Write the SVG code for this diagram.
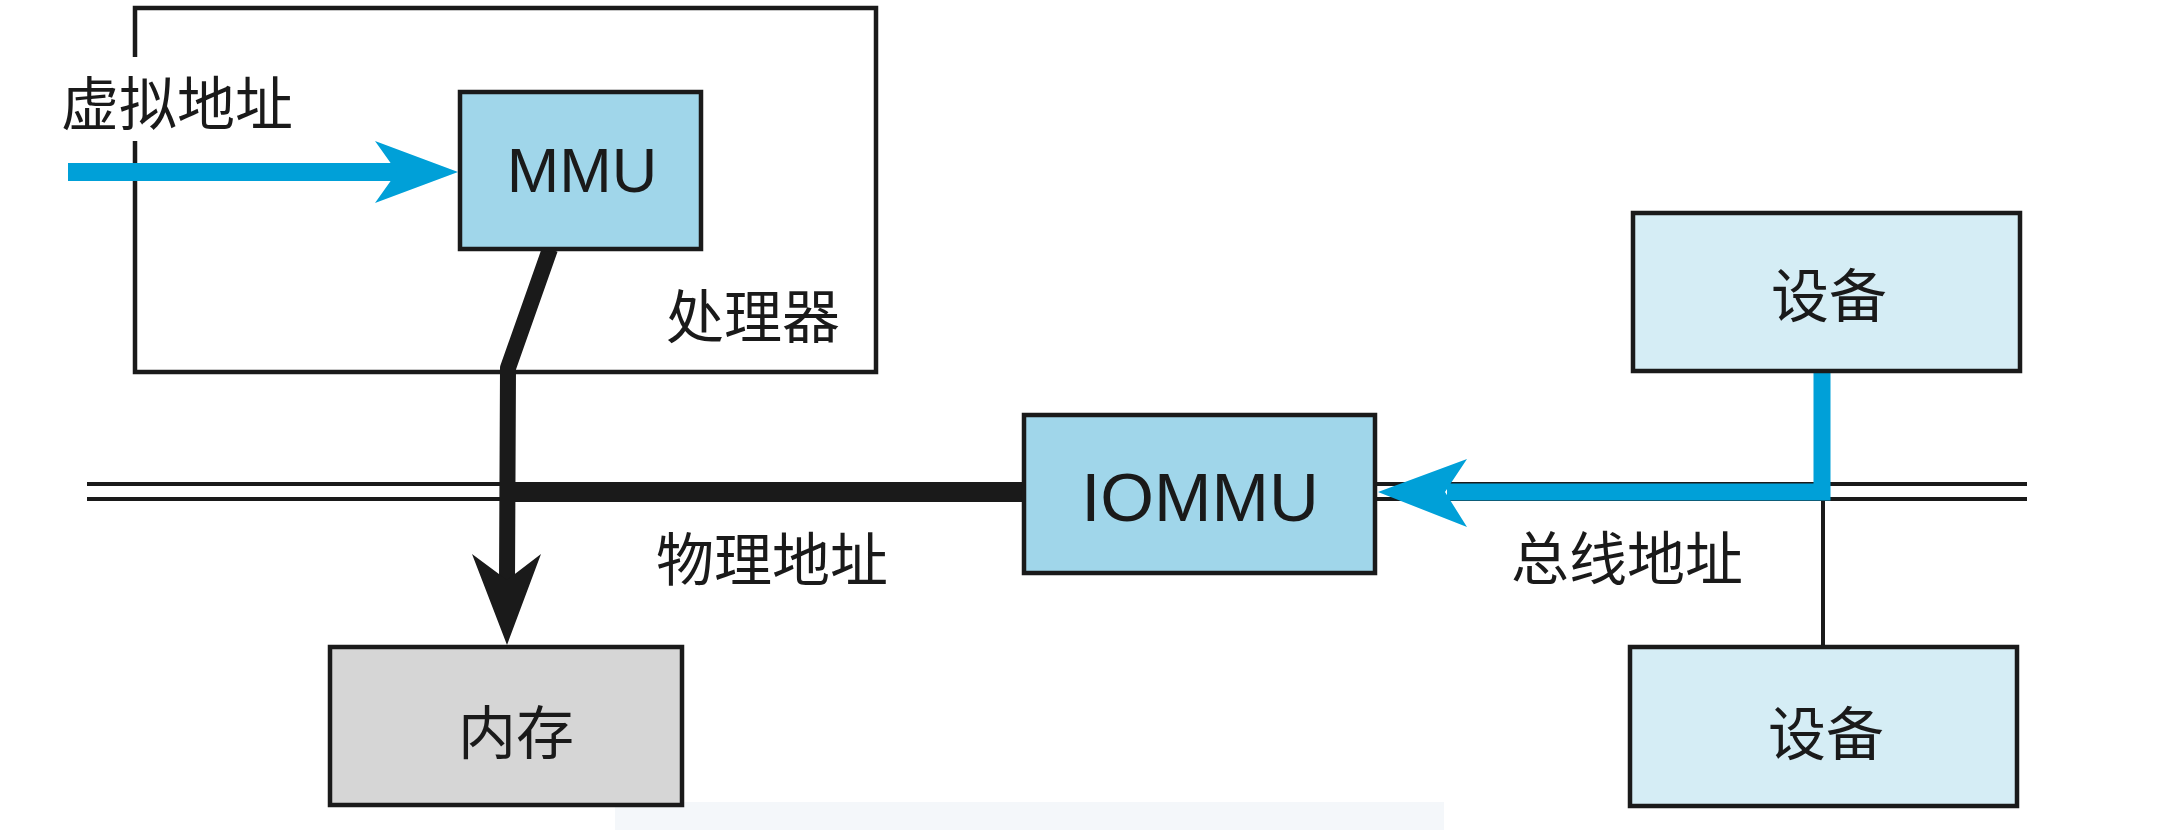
<svg xmlns="http://www.w3.org/2000/svg" width="2167" height="830" viewBox="0 0 2167 830">
<style>
.box{stroke:#1a1a1a;stroke-width:4.5}
.cjk{font-family:"Noto Sans CJK SC","Noto Sans",sans-serif;font-size:58px;fill:#1a1a1a;text-anchor:middle}
.lat{font-family:"Liberation Sans",Arial,sans-serif;fill:#1a1a1a;text-anchor:middle}
.bus{stroke:#1a1a1a;stroke-width:4;fill:none}
.blue{stroke:#00a0d8;fill:none}
</style>
<rect width="2167" height="830" fill="#ffffff"/>
<rect x="615" y="802" width="829" height="28" fill="#f4f7fa"/>
<g id="processor">
<rect class="box" x="135" y="8" width="741" height="364" fill="none"/>
<text class="cjk" x="753" y="338">处理器</text>
</g>
<g id="label-virtual">
<rect x="40" y="57" width="280" height="84" fill="#ffffff"/>
<text class="cjk" x="177" y="125">虚拟地址</text>
</g>
<g id="bus">
<line class="bus" x1="87" y1="484" x2="2027" y2="484"/>
<line class="bus" x1="87" y1="499" x2="2027" y2="499"/>
</g>
<g id="connectors">
<path d="M550,249 L508,368 L507,582" stroke="#1a1a1a" stroke-width="16" fill="none" stroke-linejoin="round"/>
<polygon points="472,554 507,645 541,554 507,580" fill="#1a1a1a"/>
<line x1="507" y1="492" x2="1024" y2="492" stroke="#1a1a1a" stroke-width="20"/>
<line x1="68" y1="172" x2="400" y2="172" class="blue" stroke-width="18"/>
<polygon points="458,172 375,141 397,172 375,203" fill="#00a0d8"/>
<line x1="1823" y1="495" x2="1823" y2="647" class="bus"/>
<path d="M1822,371 L1822,492 L1447,492" class="blue" stroke-width="17" stroke-linejoin="miter"/>
<polygon points="1378,492 1467,459 1445,492 1467,527" fill="#00a0d8"/>
</g>
<g id="mmu">
<rect class="box" x="460" y="92" width="241" height="157" fill="#a0d6ea"/>
<text class="lat" x="582" y="192" font-size="63">MMU</text>
</g>
<g id="iommu">
<rect class="box" x="1024" y="415" width="351" height="158" fill="#a0d6ea"/>
<text class="lat" x="1200" y="521" font-size="69">IOMMU</text>
</g>
<g id="memory">
<rect class="box" x="330" y="647" width="352" height="158" fill="#d6d6d6"/>
<text class="cjk" x="516" y="754">内存</text>
</g>
<g id="device1">
<rect class="box" x="1633" y="213" width="387" height="158" fill="#d5edf5"/>
<text class="cjk" x="1829" y="317">设备</text>
</g>
<g id="device2">
<rect class="box" x="1630" y="647" width="387" height="159" fill="#d5edf5"/>
<text class="cjk" x="1826" y="755">设备</text>
</g>
<g id="label-physical">
<text class="cjk" x="772" y="581">物理地址</text>
</g>
<g id="label-bus">
<text class="cjk" x="1627" y="580">总线地址</text>
</g>
</svg>
